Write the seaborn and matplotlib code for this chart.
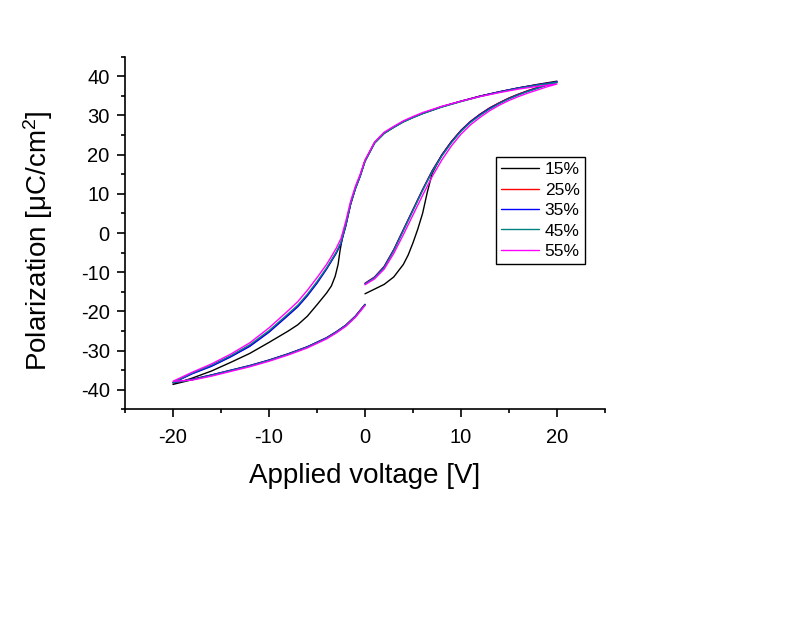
import matplotlib
matplotlib.use("Agg")
import matplotlib.pyplot as plt
import numpy as np
import pandas as pd
import seaborn as sns
from matplotlib.ticker import MultipleLocator

# ---------------- data ----------------
labels = ["15%", "25%", "35%", "45%", "55%"]
colors = ["#000000", "#FF0000", "#0000FF", "#008080", "#FF00FF"]

v_15 = [0, 1, 2, 3, 4, 4.5, 5, 5.5, 6, 6.5, 7, 8, 9, 10, 11, 12, 13, 14, 15, 16, 17, 18, 19, 20,
        18, 16, 14, 12, 10, 8, 6, 5, 4, 3, 2, 1, 0, -0.5, -1, -1.5, -2, -2.3, -2.6, -2.8, -3.1, -3.5, -4, -5, -6, -7, -8,
        -10, -12, -14, -16, -18, -20,
        -18, -16, -14, -12, -10, -8, -6, -4, -3, -2, -1, 0]
p_15 = [-15.5, -14.3, -13.1, -11.2, -8.0, -5.6, -2.5, 1.0, 5.0, 10.5, 15.2, 19.9, 23.3, 26.1, 28.4, 30.3, 31.9,
        33.2, 34.4, 35.4, 36.3, 37.1, 37.9, 38.7,
        37.9, 37.0, 36.0, 34.9, 33.6, 32.2, 30.5, 29.5, 28.4, 27.0, 25.4, 23.0, 18.4, 14.6, 11.4, 7.4, 2.0, -0.5,
        -4.5, -8.0, -11.0, -13.5, -15.3, -18.3, -21.2, -23.4, -25.0, -27.9, -30.7, -33.0, -35.2, -37.0, -38.6,
        -37.4, -36.3, -35.1, -33.9, -32.5, -30.9, -29.1, -26.8, -25.3, -23.6, -21.3, -18.3]

v_25 = [0, 1, 2, 3, 4, 5, 6, 7, 8, 9, 10, 11, 12, 13, 14, 15, 16, 17, 18, 19, 20,
        18, 16, 14, 12, 10, 8, 6, 5, 4, 3, 2, 1, 0, -0.5, -1, -1.5, -2, -2.5, -3, -3.5, -4, -5, -6, -7, -8,
        -10, -12, -14, -16, -18, -20,
        -18, -16, -14, -12, -10, -8, -6, -4, -3, -2, -1, 0]
p_25 = [-12.8, -11.2, -8.5, -4.2, 0.9, 6.0, 11.1, 15.9, 19.9, 23.3, 26.2, 28.5, 30.3, 31.9, 33.2, 34.4, 35.4,
        36.3, 37.1, 37.8, 38.5,
        37.8, 37.0, 36.0, 34.9, 33.6, 32.2, 30.5, 29.5, 28.4, 27.0, 25.5, 23.0, 18.4, 14.6, 11.4, 7.4, 2.0, -2.6,
        -5.0, -7.1, -9.1, -12.7, -15.9, -18.7, -20.9, -25.2, -28.8, -31.5, -33.9, -35.8, -38.2,
        -37.3, -36.2, -35.0, -33.8, -32.4, -30.8, -29.0, -26.7, -25.2, -23.5, -21.2, -18.2]

v_35 = [0, 1, 2, 3, 4, 5, 6, 7, 8, 9, 10, 11, 12, 13, 14, 15, 16, 17, 18, 19, 20,
        18, 16, 14, 12, 10, 8, 6, 5, 4, 3, 2, 1, 0, -0.5, -1, -1.5, -2, -2.5, -3, -3.5, -4, -5, -6, -7, -8,
        -10, -12, -14, -16, -18, -20,
        -18, -16, -14, -12, -10, -8, -6, -4, -3, -2, -1, 0]
p_35 = [-12.9, -11.3, -8.6, -4.3, 0.8, 5.9, 11.0, 15.8, 19.8, 23.2, 26.1, 28.4, 30.2, 31.8, 33.1, 34.3, 35.3,
        36.2, 37.0, 37.8, 38.5,
        37.8, 37.0, 36.0, 34.9, 33.6, 32.2, 30.5, 29.5, 28.4, 27.0, 25.5, 23.0, 18.3, 14.5, 11.3, 7.3, 1.8, -2.7,
        -5.2, -7.2, -9.2, -12.8, -16.0, -18.8, -21.0, -25.3, -28.9, -31.6, -34.0, -35.9, -38.2,
        -37.3, -36.2, -35.0, -33.8, -32.4, -30.8, -29.0, -26.7, -25.2, -23.5, -21.2, -18.2]

v_45 = [0, 1, 2, 3, 4, 5, 6, 7, 8, 9, 10, 11, 12, 13, 14, 15, 16, 17, 18, 19, 20,
        18, 16, 14, 12, 10, 8, 6, 5, 4, 3, 2, 1, 0, -0.5, -1, -1.5, -2, -2.5, -3, -3.5, -4, -5, -6, -7, -8,
        -10, -12, -14, -16, -18, -20,
        -18, -16, -14, -12, -10, -8, -6, -4, -3, -2, -1, 0]
p_45 = [-13.0, -11.4, -8.8, -4.5, 0.6, 5.7, 10.8, 15.6, 19.6, 23.0, 25.9, 28.2, 30.0, 31.6, 33.0, 34.2, 35.2,
        36.1, 36.9, 37.7, 38.4,
        37.7, 36.9, 35.9, 34.8, 33.5, 32.1, 30.4, 29.4, 28.3, 26.9, 25.4, 22.9, 18.2, 14.5, 11.3, 7.4, 2.0, -2.4,
        -4.9, -6.9, -8.9, -12.4, -15.6, -18.4, -20.6, -24.9, -28.5, -31.3, -33.7, -35.7, -38.1,
        -37.4, -36.3, -35.1, -33.9, -32.5, -30.9, -29.1, -26.8, -25.3, -23.6, -21.3, -18.3]

v_55 = [0, 1, 2, 3, 4, 5, 6, 7, 8, 9, 10, 11, 12, 13, 14, 15, 16, 17, 18, 19, 20,
        18, 16, 14, 12, 10, 8, 6, 5, 4, 3, 2, 1, 0, -0.5, -1, -1.5, -2, -2.5, -3, -3.5, -4, -5, -6, -7, -8,
        -10, -12, -14, -16, -18, -20,
        -18, -16, -14, -12, -10, -8, -6, -4, -3, -2, -1, 0]
p_55 = [-13.2, -11.7, -9.2, -5.2, -0.4, 4.6, 9.6, 14.4, 18.6, 22.2, 25.2, 27.6, 29.5, 31.2, 32.6, 33.8, 34.8,
        35.7, 36.5, 37.3, 38.0,
        37.4, 36.7, 35.8, 34.8, 33.6, 32.3, 30.7, 29.7, 28.6, 27.2, 25.7, 23.2, 18.6, 15.0, 11.9, 8.1, 3.0, -1.4,
        -3.9, -6.0, -8.0, -11.4, -14.6, -17.5, -19.8, -24.2, -28.0, -30.9, -33.4, -35.5, -37.8,
        -37.5, -36.5, -35.3, -34.1, -32.7, -31.1, -29.3, -27.0, -25.5, -23.8, -21.5, -18.5]

series_v = [v_15, v_25, v_35, v_45, v_55]
series_p = [p_15, p_25, p_35, p_45, p_55]

# ---------------- build long table ----------------
frames = []
for lab, vv, pp in zip(labels, series_v, series_p):
    frames.append(pd.DataFrame({"V": vv, "P": pp, "series": lab}))
df = pd.concat(frames, ignore_index=True)

# ---------------- style ----------------
sns.set_style("ticks")
plt.rcParams["font.family"] = ["Liberation Sans", "DejaVu Sans"]
plt.rcParams["mathtext.fontset"] = "custom"
plt.rcParams["mathtext.rm"] = "Liberation Sans"
plt.rcParams["mathtext.default"] = "regular"
plt.rcParams["axes.unicode_minus"] = False
plt.rcParams["text.color"] = "black"
plt.rcParams["axes.labelcolor"] = "black"

fig = plt.figure(figsize=(7.97, 6.23), dpi=100)
ax = fig.add_axes([0.1568, 0.3427, 0.6023, 0.5666])

sns.lineplot(data=df, x="V", y="P", hue="series", hue_order=labels,
             palette=dict(zip(labels, colors)), sort=False, estimator=None,
             linewidth=1.0, ax=ax)

ax.set_xlim(-25, 25)
ax.set_ylim(-45, 45)
ax.xaxis.set_major_locator(MultipleLocator(10))
ax.xaxis.set_minor_locator(MultipleLocator(5))
ax.yaxis.set_major_locator(MultipleLocator(10))
ax.yaxis.set_minor_locator(MultipleLocator(5))

for s in ["top", "right"]:
    ax.spines[s].set_visible(False)
for s in ["left", "bottom"]:
    ax.spines[s].set_color("black")
    ax.spines[s].set_linewidth(1.2)

ax.tick_params(which="major", direction="out", length=6, width=1.2, colors="black", labelsize=14.5)
ax.tick_params(axis="x", which="major", pad=7)
ax.tick_params(axis="y", which="major", pad=5)
ax.tick_params(which="minor", direction="out", length=3, width=1.2, colors="black")

ax.set_xlabel("Applied voltage [V]", fontsize=20, labelpad=12)
ax.set_ylabel("Polarization [μC/cm$^2$]", fontsize=20)
ax.yaxis.set_label_coords(-0.146, 0.478)

handles, labs = ax.get_legend_handles_labels()
leg = ax.legend(handles, labs, loc="upper left", bbox_to_anchor=(0.773, 0.715),
                fontsize=12.5, frameon=True, fancybox=False, edgecolor="black",
                framealpha=1, handlelength=2.2, handletextpad=0.3, borderpad=0.3,
                labelspacing=0.3, borderaxespad=0)
leg.get_frame().set_linewidth(1.0)
for ln in leg.get_lines():
    ln.set_linewidth(1.0)

fig.savefig("out.png", dpi=100)
